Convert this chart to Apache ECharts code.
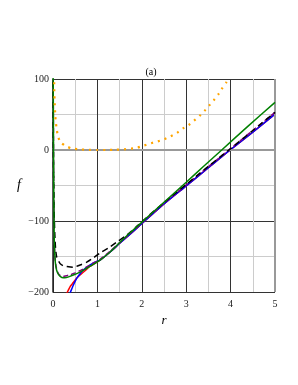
<!DOCTYPE html>
<html><head><meta charset="utf-8">
<script src="https://cdn.jsdelivr.net/npm/echarts@6/dist/echarts.min.js"></script>
<style>html,body{margin:0;padding:0;background:#fff}#c{width:298px;height:385px}</style>
</head><body><div id="c"></div>
<script>
var xTicks = [0, 1, 2, 3, 4, 5];
var yTicks = [-200, -100, 0, 100];
var orange = [[0.02,125],[0.025,100],[0.03,82],[0.036,70],[0.05,50],[0.062,40],[0.083,30],[0.11,20],[0.17,11],[0.31,5],[0.44,2],[0.61,0.9],[0.8,0.3],[1.0,0],[1.2,0],[1.4,0.3],[1.6,1],[1.88,3],[2.03,6],[2.2,9.4],[2.35,12],[2.5,15],[2.64,19],[2.79,24],[2.92,30],[3.05,35],[3.17,41],[3.3,48],[3.41,55],[3.51,62],[3.62,70],[3.72,78],[3.8,86],[3.9,95],[3.98,103],[4.05,112]];
var red = [[0.3,-203],[0.34,-198],[0.38,-193],[0.44,-188],[0.5,-183],[0.57,-178],[0.65,-174],[0.74,-169],[0.83,-164],[1.06,-155],[1.28,-144],[1.51,-131],[1.73,-119],[1.96,-106],[2.5,-76],[3,-50.5],[3.5,-25],[3.97,-1],[4.5,25],[5,50.5]];
var blue = [[0.38,-202],[0.42,-196],[0.46,-190],[0.53,-181],[0.59,-176],[0.65,-171],[0.74,-166],[0.83,-162],[0.94,-158],[1.06,-155],[1.28,-144],[1.51,-131],[1.73,-119],[1.96,-106],[2.5,-76],[3,-50.5],[3.5,-25],[3.97,-1],[4.5,25],[5,50.5]];
var purple = [[0.004,110],[0.012,0],[0.02,-80],[0.03,-130],[0.05,-155],[0.08,-167],[0.12,-174],[0.17,-177],[0.23,-178],[0.3,-177],[0.38,-176],[0.5,-173],[0.61,-170],[0.72,-166],[0.83,-162],[1.06,-154],[1.28,-143],[1.51,-130],[1.73,-118],[1.96,-105],[2.5,-75],[3,-49],[3.5,-23.5],[4,2],[4.5,27.5],[5,53]];
var black = [[0.003,110],[0.008,0],[0.02,-70],[0.045,-125],[0.08,-150],[0.16,-160],[0.23,-163],[0.31,-164],[0.46,-165],[0.61,-162],[0.76,-158],[0.91,-152],[1.06,-145],[1.25,-138],[1.43,-130],[1.66,-120],[1.88,-108],[2.11,-95],[2.5,-74],[3,-48.5],[3.5,-23],[4,2],[4.5,27.5],[5,53]];
var green = [[0.004,110],[0.012,0],[0.02,-80],[0.03,-132],[0.05,-157],[0.08,-169],[0.12,-175],[0.16,-178],[0.23,-180],[0.3,-179.5],[0.38,-178],[0.5,-175],[0.61,-172],[0.72,-168],[0.83,-164],[1.06,-155],[1.28,-144],[1.51,-130],[1.73,-117],[1.96,-104],[2.5,-73.5],[3,-45.5],[3.4,-22.5],[3.8,0],[4.4,34],[5,67]];

var chart = echarts.init(document.getElementById('c'), null, {renderer:'canvas'});
var serif = 'Liberation Serif';
function line(data, color, type, width, z) {
  return {type:'line', data:data, showSymbol:false, symbol:'none', smooth:0.25, clip:true, z:z,
    lineStyle:{color:color, width:width, type:type}, animation:false};
}
var series = [
  line(red, '#ff0000', 'solid', 1.5, 3),
  line(blue, '#0000ff', 'solid', 1.5, 4),
  line(purple, '#800080', [5,3], 1.5, 5),
  line(black, '#000000', [6,4], 1.5, 6),
  line(green, '#008000', 'solid', 1.5, 7),
  line(orange, '#ffa500', [2,5], 2.2, 8)
];
series[0].markLine = {silent:true, symbol:'none', label:{show:false}, animation:false,
  lineStyle:{color:'#999', width:2, type:'solid'},
  data:[{yAxis:0},{xAxis:5}]};
chart.setOption({
  animation:false,
  title:{text:'(a)', left:146, top:62, textAlign:'center', textStyle:{fontFamily:serif, fontSize:10, fontWeight:'normal', color:'#000'}},
  grid:{left:53, right:23, top:79, bottom:93},
  xAxis:{type:'value', min:0, max:5, interval:1,
    name:'r', nameLocation:'middle', nameGap:20,
    nameTextStyle:{fontFamily:serif, fontStyle:'italic', fontSize:13, color:'#000'},
    axisLine:{show:true, lineStyle:{color:'#222', width:1.5}},
    axisTick:{show:false},
    axisLabel:{fontFamily:serif, fontSize:10, color:'#222', margin:7,
      formatter:function(v){return xTicks.indexOf(v)>=0 ? String(v) : '';}},
    splitLine:{show:true, lineStyle:{color:'#333', width:1}},
    minorTick:{show:false, splitNumber:2},
    minorSplitLine:{show:true, lineStyle:{color:'#ccc', width:1}}
  },
  yAxis:{type:'value', min:-200, max:100, interval:100,
    name:'f', nameLocation:'middle', nameGap:32, nameRotate:0,
    nameTextStyle:{fontFamily:serif, fontStyle:'italic', fontSize:14, color:'#000'},
    axisLine:{show:true, lineStyle:{color:'#222', width:1.5}},
    axisTick:{show:false},
    axisLabel:{fontFamily:serif, fontSize:10, color:'#222', margin:4,
      formatter:function(v){return yTicks.indexOf(v)>=0 ? (v<0 ? '\u2212' + (-v) : String(v)) : '';}},
    splitLine:{show:true, lineStyle:{color:'#333', width:1}},
    minorTick:{show:false, splitNumber:2},
    minorSplitLine:{show:true, lineStyle:{color:'#ccc', width:1}}
  },
  series:series
});
</script></body></html>
